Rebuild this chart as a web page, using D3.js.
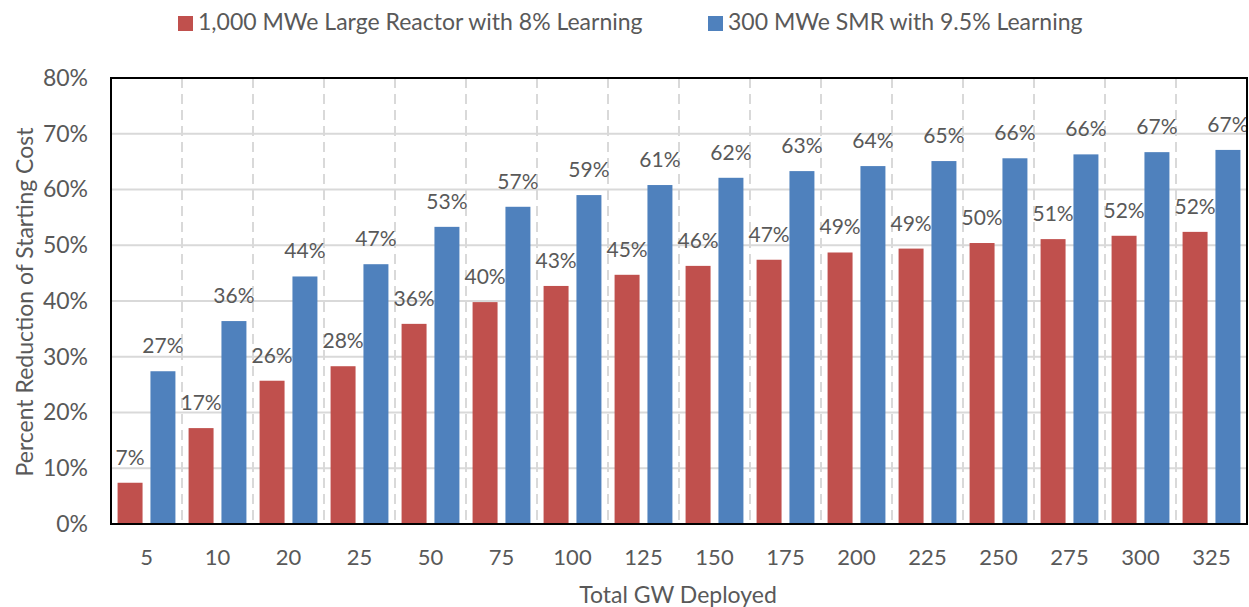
<!DOCTYPE html>
<html><head><meta charset="utf-8">
<script src="https://cdn.jsdelivr.net/npm/d3@7"></script>
<style>body{margin:0;background:#fff;} text{font-family:Lato, "Liberation Sans", sans-serif;}</style>
</head><body>
<svg id="chart" width="1249" height="607"></svg>
<script>
const categories = ["5","10","20","25","50","75","100","125","150","175","200","225","250","275","300","325"];
const largeReactor = [7.4,17.2,25.7,28.3,35.9,39.8,42.7,44.7,46.3,47.4,48.7,49.4,50.4,51.1,51.7,52.4];
const smr = [27.4,36.4,44.4,46.6,53.3,56.9,59.0,60.8,62.1,63.3,64.2,65.1,65.6,66.3,66.7,67.1];
const seriesNames = ["1,000 MWe Large Reactor with 8% Learning","300 MWe SMR with 9.5% Learning"];
const seriesColors = ["#C0504D","#4F81BD"];
const yTicks = [0,10,20,30,40,50,60,70,80];

const svg = d3.select("#chart");
const m = {left:111, right:1247, top:78, bottom:524};
const x = d3.scaleBand().domain(categories).range([m.left, m.right]).paddingInner(0).paddingOuter(0);
const x1 = d3.scaleBand().domain([0,1]).range([0, x.bandwidth()]).paddingInner(0.24).paddingOuter(0.2);
const y = d3.scaleLinear().domain([0,80]).range([m.bottom, m.top]);
const gray = "#595959";

// horizontal gridlines
svg.append("g").selectAll("line").data(yTicks).join("line")
  .attr("x1", m.left).attr("x2", m.right)
  .attr("y1", d=>y(d)).attr("y2", d=>y(d))
  .attr("stroke", "#d9d9d9").attr("stroke-width", 2);
// vertical dashed gridlines at category boundaries
svg.append("g").selectAll("line").data(categories.slice(1)).join("line")
  .attr("x1", d=>x(d)).attr("x2", d=>x(d))
  .attr("y1", m.top).attr("y2", m.bottom)
  .attr("stroke", "#d9d9d9").attr("stroke-width", 2).attr("stroke-dasharray", "10,6");

const data = categories.map((c,i)=>({c, vals:[largeReactor[i], smr[i]]}));
const fmt = d3.format(".0%");
const g = svg.append("g").selectAll("g").data(data).join("g")
  .attr("transform", d=>`translate(${x(d.c)},0)`);
g.selectAll("rect").data(d=>d.vals.map((v,k)=>({v,k}))).join("rect")
  .attr("x", d=>x1(d.k)).attr("width", x1.bandwidth())
  .attr("y", d=>y(d.v)).attr("height", d=>y(0)-y(d.v))
  .attr("fill", d=>seriesColors[d.k]);
g.selectAll("text").data(d=>d.vals.map((v,k)=>({v,k}))).join("text")
  .attr("x", d=>x1(d.k)+x1.bandwidth()/2).attr("y", d=>y(d.v)-18)
  .attr("text-anchor","middle").attr("font-size", 21).attr("fill",gray)
  .text(d=>fmt(Math.round(d.v)/100));

// border
svg.append("rect").attr("x", m.left).attr("y", m.top)
  .attr("width", m.right-m.left).attr("height", m.bottom-m.top)
  .attr("fill","none").attr("stroke","#000").attr("stroke-width",2);

// y axis
const yAxis = d3.axisLeft(y).tickValues(yTicks).tickFormat(d=>d+"%").tickSize(0).tickPadding(23);
const ya = svg.append("g").attr("transform",`translate(${m.left},0)`).call(yAxis);
ya.select(".domain").remove();
ya.selectAll("text").attr("font-size",23).attr("fill",gray).style("font-family","Lato");

// x axis
const xAxis = d3.axisBottom(x).tickSize(0).tickPadding(25);
const xa = svg.append("g").attr("transform",`translate(0,${m.bottom})`).call(xAxis);
xa.select(".domain").remove();
xa.selectAll("text").attr("font-size",22).attr("fill",gray).style("font-family","Lato");

// axis titles
svg.append("text").attr("x", 678).attr("y", 603).attr("text-anchor","middle")
  .attr("font-size",23).attr("fill",gray).text("Total GW Deployed");
svg.append("text").attr("transform","translate(33,302) rotate(-90)").attr("text-anchor","middle")
  .attr("font-size",23).attr("fill",gray).text("Percent Reduction of Starting Cost");

// legend
const legX = [178, 708];
const lg = svg.append("g").selectAll("g").data(seriesNames).join("g")
  .attr("transform",(d,i)=>`translate(${legX[i]},16)`);
lg.append("rect").attr("width",15).attr("height",15).attr("fill",(d,i)=>seriesColors[i]);
lg.append("text").attr("x",20).attr("y",14).attr("font-size",23).attr("fill",gray).text(d=>d);
</script>
</body></html>
